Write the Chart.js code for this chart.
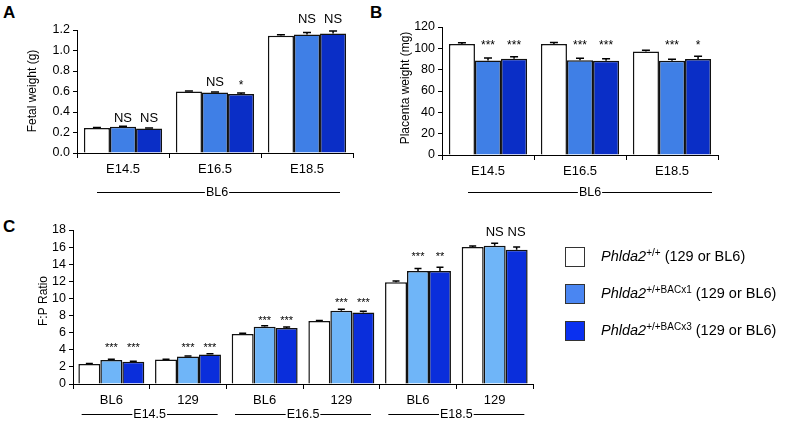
<!DOCTYPE html>
<html><head><meta charset="utf-8">
<script src="https://cdn.jsdelivr.net/npm/chart.js@4.4.0/dist/chart.umd.min.js"></script>
<style>
html,body{margin:0;padding:0;background:#fff}
body{width:786px;height:432px;position:relative;overflow:hidden;font-family:"Liberation Sans",Arial,sans-serif;color:#000}
canvas{position:absolute}
.plab{position:absolute;font-weight:bold;font-size:17px;line-height:17px}
.leg{position:absolute;left:565px;font-size:14.5px;line-height:16px;white-space:nowrap}
.leg .box{position:absolute;left:0;top:0;width:18px;height:18px;border:1.5px solid #333}
.leg .txt{position:absolute;left:36px;top:1px}
.leg sup{font-size:10px;vertical-align:0;position:relative;top:-5px}
</style></head>
<body>
<div class="plab" style="left:3px;top:4px">A</div>
<div class="plab" style="left:370px;top:4px">B</div>
<div class="plab" style="left:3px;top:218px">C</div>
<canvas id="ca" width="390" height="210" style="left:0;top:0;width:390px;height:210px"></canvas>
<canvas id="cb" width="396" height="210" style="left:390px;top:0;width:396px;height:210px"></canvas>
<canvas id="cc" width="560" height="232" style="left:0;top:200px;width:560px;height:232px"></canvas>
<div id="legend"></div>
<script>
// ---------- data ----------
const seriesNames = ['Phlda2+/+', 'Phlda2+/+BACx1', 'Phlda2+/+BACx3'];

// Panel A: fetal weight (g)
const catsA = ['E14.5', 'E16.5', 'E18.5'];
const wtA  = [0.245, 0.600, 1.145];
const x1A  = [0.255, 0.590, 1.155];
const x3A  = [0.240, 0.575, 1.165];
const errWtA = [0.004, 0.005, 0.008];
const errX1A = [0.006, 0.006, 0.020];
const errX3A = [0.005, 0.010, 0.025];
const sigX1A = ['NS', 'NS', 'NS'];
const sigX3A = ['NS', '*', 'NS'];
const sigLevelA = [0.352, 0.700, 1.318];
const ticksA = [0, 0.2, 0.4, 0.6, 0.8, 1.0, 1.2];

// Panel B: placenta weight (mg)
const catsB = ['E14.5', 'E16.5', 'E18.5'];
const wtB  = [104.0, 104.0, 97.0];
const x1B  = [88.5, 88.8, 88.4];
const x3B  = [90.3, 88.4, 90.0];
const errWtB = [1.2, 1.5, 1.1];
const errX1B = [2.4, 1.8, 1.3];
const errX3B = [1.9, 1.9, 2.5];
const sigX1B = ['***', '***', '***'];
const sigX3B = ['***', '***', '*'];
const sigLevelB = [106, 106, 106.5];
const ticksB = [0, 20, 40, 60, 80, 100, 120];

// Panel C: F:P ratio
const catsC = ['BL6', '129', 'BL6', '129', 'BL6', '129'];
const groupsC = ['E14.5', 'E16.5', 'E18.5'];
const wtC  = [2.35, 2.85, 5.85, 7.35, 11.90, 16.00];
const x1C  = [2.80, 3.20, 6.70, 8.55, 13.20, 16.15];
const x3C  = [2.60, 3.45, 6.55, 8.35, 13.20, 15.70];
const errWtC = [0.05, 0.05, 0.08, 0.06, 0.15, 0.12];
const errX1C = [0.08, 0.06, 0.12, 0.20, 0.30, 0.30];
const errX3C = [0.06, 0.10, 0.10, 0.15, 0.45, 0.30];
const sigX1C = ['***', '***', '***', '***', '***', 'NS'];
const sigX3C = ['***', '***', '***', '***', '**', 'NS'];
const sigLevelC = [4.70, 4.70, 7.85, 9.95, 15.30, 17.90];
const ticksC = [0, 2, 4, 6, 8, 10, 12, 14, 16, 18];

// ---------- helpers ----------
const FONT = '"Liberation Sans", Arial, sans-serif';
Chart.defaults.font.family = FONT;
Chart.defaults.color = '#000';

function overlay(cfg) {
  return {
    id: 'overlay',
    afterDatasetsDraw(chart) {
      const ctx = chart.ctx;
      const ys = chart.scales.y;
      ctx.save();
      // error bars
      chart.data.datasets.forEach((ds, i) => {
        const meta = chart.getDatasetMeta(i);
        meta.data.forEach((bar, j) => {
          const top = ys.getPixelForValue(ds.data[j] + cfg.errs[i][j]);
          ctx.strokeStyle = '#000';
          ctx.lineWidth = 1.5;
          ctx.beginPath();
          ctx.moveTo(bar.x, bar.y);
          ctx.lineTo(bar.x, top);
          ctx.moveTo(bar.x - cfg.cap, top);
          ctx.lineTo(bar.x + cfg.cap, top);
          ctx.stroke();
        });
      });
      // significance labels
      ctx.fillStyle = '#000';
      ctx.textAlign = 'center';
      ctx.textBaseline = 'alphabetic';
      [1, 2].forEach(i => {
        const meta = chart.getDatasetMeta(i);
        const sig = cfg.sigs[i - 1];
        meta.data.forEach((bar, j) => {
          const txt = sig[j];
          const yc = ys.getPixelForValue(cfg.levels[j]);
          const isStar = txt.indexOf('*') >= 0;
          ctx.font = (isStar ? cfg.starSize : cfg.nsSize) + 'px ' + FONT;
          ctx.fillText(txt, bar.x, yc + (isStar ? cfg.starSize * 0.62 : cfg.nsSize * 0.36));
        });
      });
      ctx.restore();
    },
    afterDraw(chart) {
      const ctx = chart.ctx;
      const xs = chart.scales.x;
      ctx.save();
      ctx.font = '12.5px ' + FONT;
      ctx.textBaseline = 'middle';
      ctx.textAlign = 'center';
      // group lines
      cfg.groups.forEach(g => {
        const a = xs.getPixelForValue(g.from) - xs.width / xs.ticks.length / 2;
        const b = xs.getPixelForValue(g.to) + xs.width / xs.ticks.length / 2;
        const mid = (a + b) / 2;
        const x0 = mid - g.left, x1 = mid + g.right, tx = mid + g.shift;
        const tw = ctx.measureText(g.label).width;
        ctx.strokeStyle = '#000';
        ctx.lineWidth = 1;
        ctx.beginPath();
        ctx.moveTo(x0, cfg.lineY + 0.5); ctx.lineTo(tx - tw / 2 - 1, cfg.lineY + 0.5);
        ctx.moveTo(tx + tw / 2 + 1, cfg.lineY + 0.5); ctx.lineTo(x1, cfg.lineY + 0.5);
        ctx.stroke();
        ctx.fillStyle = '#000';
        ctx.fillText(g.label, tx, cfg.lineY + 1);
      });
      // y title
      ctx.font = '12px ' + FONT;
      ctx.translate(cfg.title.x, cfg.title.y);
      ctx.rotate(-Math.PI / 2);
      ctx.fillText(cfg.title.text, 0, 0);
      ctx.restore();
    }
  };
}

function makeChart(id, cats, vals, colors, yMax, yTicks, fmt, layout, cfg, catPct) {
  const datasets = vals.map((v, i) => ({
    label: seriesNames[i],
    data: v,
    backgroundColor: colors[i],
    borderColor: '#111',
    borderWidth: 1.5,
    borderSkipped: 'start',
    categoryPercentage: catPct,
    barPercentage: 1.0
  }));
  return new Chart(document.getElementById(id), {
    type: 'bar',
    data: { labels: cats, datasets },
    options: {
      responsive: false,
      animation: false,
      devicePixelRatio: 1,
      layout: { padding: { left: 0, right: layout.right, top: layout.top, bottom: 0 } },
      plugins: { legend: { display: false }, tooltip: { enabled: false } },
      scales: {
        x: {
          grid: { display: true, drawOnChartArea: false, offset: true, tickLength: 5, color: '#000', tickColor: '#000', lineWidth: 1 },
          border: { display: true, color: '#000', width: 1 },
          ticks: { color: '#000', font: { size: 13 }, padding: 4, maxRotation: 0, autoSkip: false },
          afterFit: s => { s.height = layout.xh; }
        },
        y: {
          min: 0, max: yMax,
          afterBuildTicks: s => { s.ticks = yTicks.map(v => ({ value: v })); },
          grid: { display: true, drawOnChartArea: false, tickLength: 4, color: '#000', tickColor: '#000', lineWidth: 1 },
          border: { display: true, color: '#000', width: 1 },
          ticks: { color: '#000', font: { size: 12.5 }, padding: 3, autoSkip: false, callback: v => fmt(v) },
          afterFit: s => { s.width = layout.yw; }
        }
      }
    },
    plugins: [overlay(cfg)]
  });
}

const colAB = ['#ffffff', '#3f7fe6', '#0a2ec6'];
const colC  = ['#ffffff', '#6fb5f8', '#0a2edb'];

makeChart('ca', catsA, [wtA, x1A, x3A], colAB, 1.2, ticksA, v => v.toFixed(1),
  { right: 37, top: 30, xh: 57, yw: 77 },
  { errs: [errWtA, errX1A, errX3A], sigs: [sigX1A, sigX3A], levels: sigLevelA, cap: 4, starSize: 12, nsSize: 13,
    groups: [{ label: 'BL6', from: 0, to: 2, left: 118, right: 125, shift: 2 }], lineY: 192,
    title: { text: 'Fetal weight (g)', x: 33, y: 91 } }, 0.85);

makeChart('cb', catsB, [wtB, x1B, x3B], colAB, 120, ticksB, v => String(v),
  { right: 68, top: 27, xh: 55, yw: 52 },
  { errs: [errWtB, errX1B, errX3B], sigs: [sigX1B, sigX3B], levels: sigLevelB, cap: 4, starSize: 12, nsSize: 13,
    groups: [{ label: 'BL6', from: 0, to: 2, left: 112, right: 132, shift: 10 }], lineY: 192,
    title: { text: 'Placenta weight (mg)', x: 16, y: 88 } }, 0.85);

makeChart('cc', catsC, [wtC, x1C, x3C], colC, 18, ticksC, v => String(v),
  { right: 27, top: 30, xh: 48, yw: 73 },
  { errs: [errWtC, errX1C, errX3C], sigs: [sigX1C, sigX3C], levels: sigLevelC, cap: 3.5, starSize: 11, nsSize: 13,
    groups: groupsC.map((g, k) => ({ label: g, from: 2 * k, to: 2 * k + 1, left: 68, right: 68, shift: 0 })), lineY: 214,
    title: { text: 'F:P Ratio', x: 44, y: 101 } }, 0.86);

// ---------- legend (HTML) ----------
const legendTops = [247, 284, 321];
const legendSup = ['+/+', '+/+BACx1', '+/+BACx3'];
const legendCols = ['#ffffff', '#4a86f2', '#0a30f0'];
const legendHtml = legendCols.map((col, i) =>
  '<div class="leg" style="top:' + legendTops[i] + 'px"><div class="box" style="background:' + col + '"></div>' +
  '<div class="txt"><i>Phlda2</i><sup>' + legendSup[i] + '</sup> (129 or BL6)</div></div>'
).join('');
document.getElementById('legend').innerHTML = legendHtml;
</script>
</body></html>
